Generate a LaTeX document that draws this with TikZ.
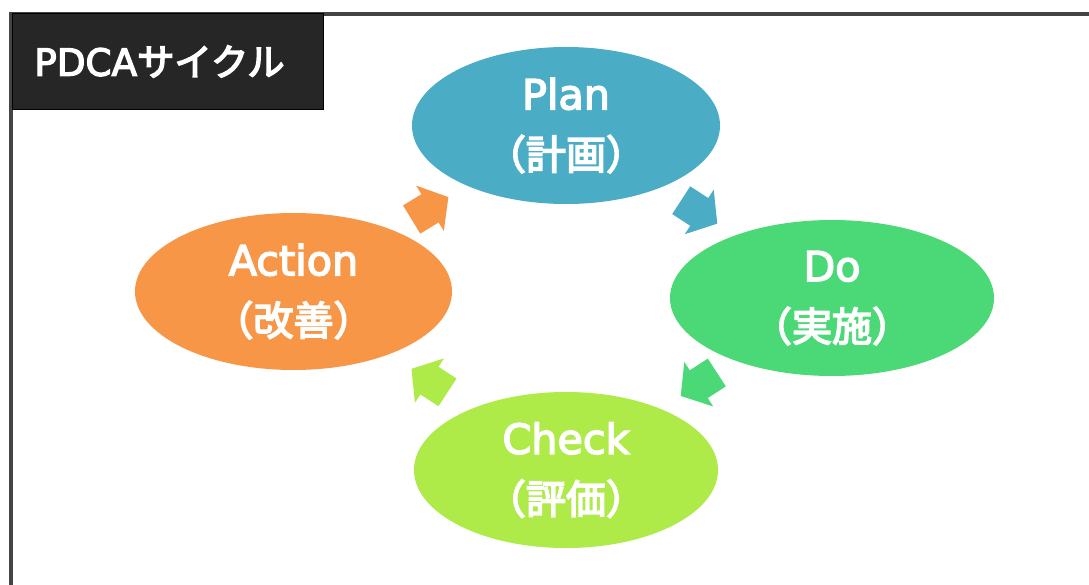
\documentclass[tikz,border=0pt]{standalone}
\usepackage{fontspec}
\setmainfont{Noto Sans CJK JP}[FakeBold=4]
\newfontfamily\latinfont{DejaVu Sans}[FakeBold=3.5]
\usetikzlibrary{shapes.geometric,shapes.arrows,calc}
\definecolor{planc}{HTML}{4BACC6}
\definecolor{doc}{HTML}{4AD976}
\definecolor{checkc}{HTML}{AEEA48}
\definecolor{actc}{HTML}{F79646}
\definecolor{framec}{HTML}{444444}
\definecolor{titlec}{HTML}{262626}
\begin{document}
\begin{tikzpicture}[x=0.75pt,y=-0.75pt,
  phase/.style={ellipse, inner sep=0pt, text=white, align=center,
    font=\fontsize{30}{45}\selectfont},
  blockarrow/.style={single arrow, anchor=tail, inner xsep=0pt, inner ysep=12.2pt,
    minimum height=32.25pt, minimum width=0pt,
    single arrow head extend=7.5pt, single arrow tip angle=102},
  titlebox/.style={draw=black, fill=titlec, line width=0.75pt, inner sep=0pt,
    anchor=north west},
  titletext/.style={anchor=west, text=white, inner sep=0pt,
    font=\fontsize{28}{32}\selectfont}
]
\useasboundingbox (0,0) rectangle (1089,585);
\fill[white] (0,0) rectangle (1089,585);
\begin{scope}
  \clip (0,0) rectangle (1089,585);
  \draw[framec, line width=3pt] (11,620) -- (11,14) -- (1120,14);
\end{scope}

\node[titlebox, minimum width=233pt, minimum height=72pt] (tbox) at (12,13) {};
\node[titletext] (ttext) at ($(tbox.west)+(22,0)$) {{\latinfont PDCA}サイクル};

\node[phase, fill=planc, minimum width=231pt, minimum height=117.75pt] (plan) at (566,125.5)
  {{\fontsize{31}{45}\selectfont\latinfont Plan}\\（計画）};
\node[phase, fill=doc, minimum width=243pt, minimum height=117pt] (do) at (832,298)
  {{\fontsize{31}{45}\selectfont\latinfont Do}\\（実施）};
\node[phase, fill=checkc, minimum width=228pt, minimum height=117pt] (check) at (566,470)
  {{\fontsize{31}{45}\selectfont\latinfont Check}\\（評価）};
\node[phase, fill=actc, minimum width=237.75pt, minimum height=117.75pt] (act) at (293.5,291.5)
  {{\fontsize{31}{45}\selectfont\latinfont Action}\\（改善）};

\node[blockarrow, fill=planc, rotate=-33] (a1)
  at ($(plan.center)!0.5!(do.center)!16.1pt!(plan.center)$) {};
\node[blockarrow, fill=doc, rotate=213] (a2)
  at ($(do.center)!0.5!(check.center)!16.1pt!(do.center)$) {};
\node[blockarrow, fill=checkc, rotate=146.8] (a3)
  at ($(check.center)!0.5!(act.center)!16.1pt!(check.center)$) {};
\node[blockarrow, fill=actc, rotate=31.4] (a4)
  at ($(act.center)!0.5!(plan.center)!16.1pt!(act.center)$) {};
\end{tikzpicture}
\end{document}
